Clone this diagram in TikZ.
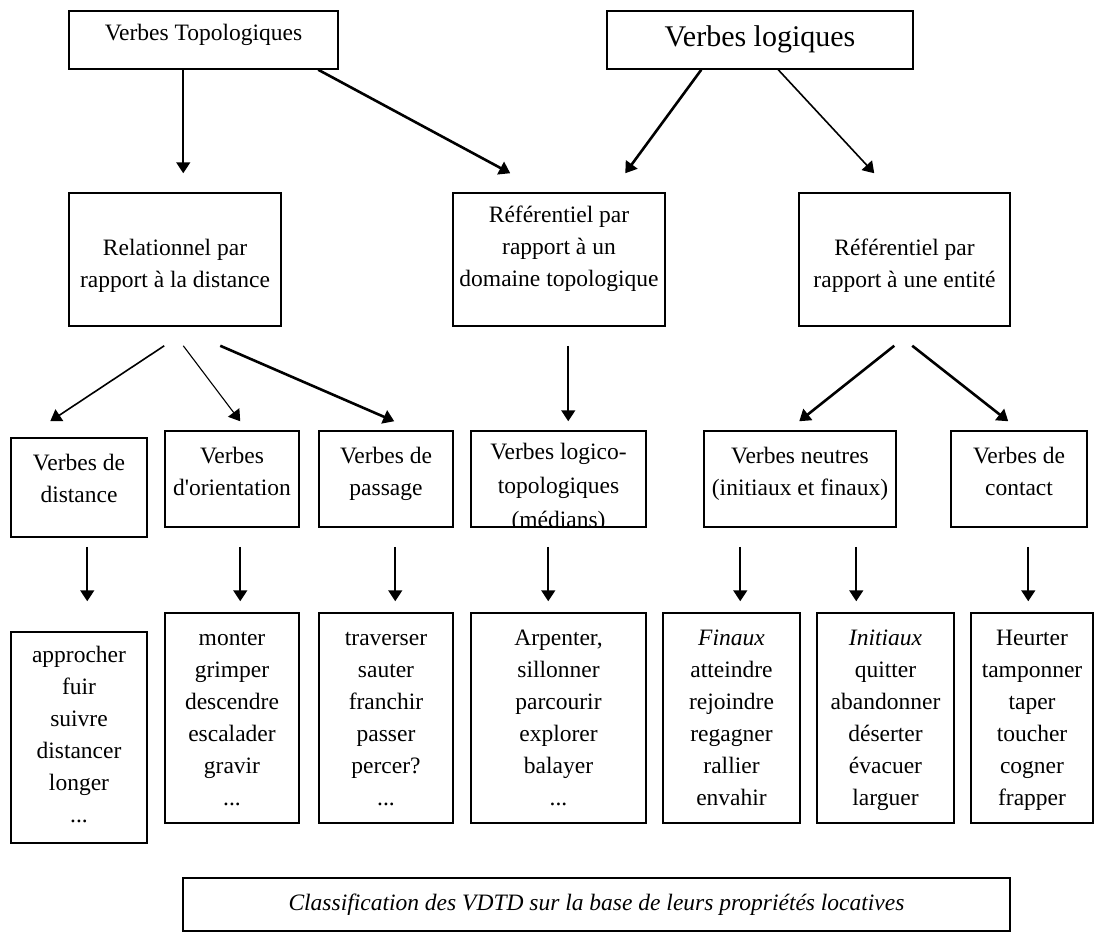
\documentclass[tikz,border=0pt]{standalone}
\usepackage{fontspec}
\setmainfont{Liberation Serif}
\usepackage{tikz}
\usetikzlibrary{arrows.meta, positioning, calc}

% invisible struts that set where the lines sit in a box
\newcommand{\firststrut}[1]{\rule{0pt}{#1}}
\newcommand{\laststrut}[1]{\rule[-#1]{0pt}{0pt}}

\begin{document}
\begin{tikzpicture}[
    x=0.5pt, y=-0.5pt,
    block/.style={rectangle, draw, line width=0.75pt, inner sep=0pt, align=center, font=\fontsize{11.75}{16}\selectfont},
    level3/.style={block, minimum height=48pt},
    wordlist/.style={block, minimum height=105pt},
    connector/.style={-{Triangle[length=5.5pt, width=7pt]}, line width=0.8pt},
    thin connector/.style={connector, line width=0.55pt},
    thick connector/.style={connector, line width=1.3pt},
]
    \useasboundingbox (0,0) rectangle (1095,933);

    % Top level
    \node[block, minimum width=134.5pt, minimum height=29pt] (topo) at (203.5,40) {\firststrut{9pt}Verbes Topologiques\laststrut{9pt}};
    \node[block, minimum width=153pt, minimum height=29pt, font=\fontsize{15}{18}\selectfont] (logiq) at (760,40) {\firststrut{12.5pt}Verbes logiques\laststrut{6.5pt}};

    % Second level
    \node[block, minimum width=106pt, minimum height=66.5pt] (rel) at (175,259.5) {\firststrut{16pt}Relationnel par\\rapport à la distance\laststrut{4pt}};
    \node[block, minimum width=106pt, minimum height=66.5pt] (dom) at (559,259.5) {\firststrut{10pt}Référentiel par\\rapport à un\\domaine topologique\laststrut{15.5pt}};
    \node[block, minimum width=105.5pt, minimum height=66.5pt] (ent) at (904.5,259.5) {\firststrut{15.5pt}Référentiel par\\rapport à une entité\laststrut{4pt}};

    % Verb classes
    \node[level3, minimum width=68pt, minimum height=49.5pt] (dist) at (79,487.5) {\firststrut{10pt}Verbes de\\distance\laststrut{11.5pt}};
    \node[level3, minimum width=67pt] (orient) at (232,479) {\firststrut{10pt}Verbes\\d\textquotesingle orientation\laststrut{10pt}};
    \node[level3, minimum width=67pt] (pass) at (386,479) {\firststrut{10pt}Verbes de\\passage\laststrut{10pt}};
    \begin{scope}
        % last line runs out of the box and is cut at its border
        \clip (440,425) rectangle (680,527.8);
        \node[level3, minimum width=87.5pt] (logico) at (558.5,479) {\firststrut{14pt}Verbes logico-\\[1pt]topologiques\\[1pt]\smash{(médians)}};
    \end{scope}
    \node[level3, minimum width=96pt] (neutr) at (800,479) {\firststrut{10pt}Verbes neutres\\(initiaux et finaux)\laststrut{10pt}};
    \node[level3, minimum width=68pt] (contact) at (1019,479) {\firststrut{10pt}Verbes de\\contact\laststrut{10pt}};

    % Word lists
    \node[wordlist, minimum width=68pt, minimum height=105.5pt] (approch) at (79,737.5) {\firststrut{10pt}approcher\\fuir\\suivre\\distancer\\longer\\...\laststrut{5.5pt}};
    \node[wordlist, minimum width=67pt] (monter) at (232,718) {\firststrut{11pt}monter\\grimper\\descendre\\escalader\\gravir\\...\laststrut{4pt}};
    \node[wordlist, minimum width=67pt] (travers) at (386,718) {\firststrut{11pt}traverser\\sauter\\franchir\\passer\\percer?\\...\laststrut{4pt}};
    \node[wordlist, minimum width=87.5pt] (arpent) at (558.5,718) {\firststrut{11pt}Arpenter,\\sillonner\\parcourir\\explorer\\balayer\\...\laststrut{4pt}};
    \node[wordlist, minimum width=68.5pt] (finaux) at (731.5,718) {\firststrut{11pt}\textit{Finaux}\\atteindre\\rejoindre\\regagner\\rallier\\envahir\laststrut{4pt}};
    \node[wordlist, minimum width=68.5pt] (initiaux) at (885.5,718) {\firststrut{11pt}\textit{Initiaux}\\quitter\\abandonner\\déserter\\évacuer\\larguer\laststrut{4pt}};
    \node[wordlist, minimum width=61pt] (heurt) at (1032,718) {\firststrut{11pt}Heurter\\tamponner\\taper\\toucher\\cogner\\frapper\laststrut{4pt}};

    % Caption box
    \node[block, minimum width=413.5pt, minimum height=26.5pt] (classif) at (596.5,904.5) {\firststrut{13pt}\textit{Classification des VDTD sur la base de leurs propriétés locatives}\laststrut{7.5pt}};

    % Top level to second level
    \draw[connector] ($(topo.south west)+(115,0)$) -- ($(rel.north west)+(115,-19)$);
    \draw[thick connector] ($(topo.south west)+(250,0)$) -- ($(dom.north west)+(58,-19)$);
    \draw[thick connector] ($(logiq.south west)+(95,0)$) -- ($(dom.north west)+(173,-19)$);
    \draw[connector] ($(logiq.south west)+(172,0)$) -- ($(ent.north west)+(76,-19)$);

    % Second level to verb classes
    \draw[connector] ($(rel.south west)+(96,19)$) -- ($(dist.north west)+(40,-16)$);
    \draw[thin connector] ($(rel.south west)+(115,19)$) -- ($(orient.north west)+(76,-9)$);
    \draw[thick connector] ($(rel.south west)+(152,19)$) -- ($(pass.north west)+(76,-9)$);
    \draw[connector] ($(dom.south west)+(116,19)$) -- ($(logico.north west)+(98,-9)$);
    \draw[thick connector] ($(ent.south west)+(96,19)$) -- ($(neutr.north west)+(96,-9)$);
    \draw[thick connector] ($(ent.south west)+(114,19)$) -- ($(contact.north west)+(58,-9)$);

    % Verb classes to word lists
    \draw[connector] ($(dist.south west)+(77,9)$) -- ($(approch.north west)+(77,-30)$);
    \draw[connector] ($(orient.south west)+(76,19)$) -- ($(monter.north west)+(76,-11)$);
    \draw[connector] ($(pass.south west)+(77,19)$) -- ($(travers.north west)+(77,-11)$);
    \draw[connector] ($(logico.south west)+(78,19)$) -- ($(arpent.north west)+(78,-11)$);
    \draw[connector] ($(neutr.south west)+(37,19)$) -- ($(finaux.north west)+(78,-11)$);
    \draw[connector] ($(neutr.south west)+(153,19)$) -- ($(initiaux.north west)+(40,-11)$);
    \draw[connector] ($(contact.south west)+(78,19)$) -- ($(heurt.north west)+(58,-11)$);
\end{tikzpicture}
\end{document}
